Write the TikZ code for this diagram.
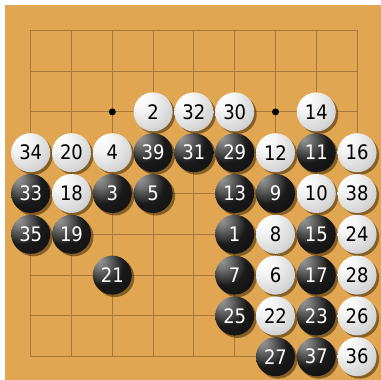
\documentclass[tikz,border=0pt]{standalone}
\usepackage{fontspec}
\newfontfamily\stonefont{DejaVu Sans Condensed}
\usetikzlibrary{shadows}
\definecolor{board}{HTML}{E1A651}
\definecolor{gridc}{HTML}{A8773C}
\definecolor{shadowc}{HTML}{4A300C}
\pgfdeclareradialshading{blackstone}{\pgfpoint{-18bp}{20bp}}{color(0bp)=(black!40); color(8bp)=(black!52); color(26bp)=(black!90); color(75bp)=(black)}
\pgfdeclareradialshading{whitestone}{\pgfpoint{-18bp}{20bp}}{color(0bp)=(white); color(14bp)=(white!96!black); color(34bp)=(white!84!black); color(55bp)=(white!64!black); color(75bp)=(white!45!black)}
\begin{document}
\begin{tikzpicture}[x=1pt,y=-1pt,
  stone/.style={circle, minimum size=39pt, inner sep=0pt,
    font=\stonefont\fontsize{20}{20}\selectfont,
    drop shadow={shadow xshift=2.5pt, shadow yshift=-2.5pt, fill=shadowc, opacity=0.6}},
  bstone/.style={stone, shading=blackstone, text=white},
  wstone/.style={stone, shading=whitestone, text=black},
  gridline/.style={draw=gridc, line width=0.9pt},
  starpt/.style={circle, fill=black, minimum size=7pt, inner sep=0pt}]
\useasboundingbox (0,0) rectangle (381,380);
\fill[board] (5,5) rectangle (381,380);
\foreach \i in {0,...,8}{
  \draw[gridline] ({30.7+40.8*\i},30.3) -- ({30.7+40.8*\i},356.7);
  \draw[gridline] (30.7,{30.3+40.8*\i}) -- (356.7,{30.3+40.8*\i});
}
\node[starpt] (star1) at ({30.7+40.8*2},{30.3+40.8*2}) {};
\node[starpt] (star2) at ({30.7+40.8*6},{30.3+40.8*2}) {};
% black stones
\foreach \c/\r/\n in {3/3/39,4/3/31,5/3/29,7/3/11,
  0/4/33,2/4/3,3/4/5,5/4/13,6/4/9,
  0/5/35,1/5/19,5/5/1,7/5/15,
  2/6/21,5/6/7,7/6/17,
  5/7/25,7/7/23,
  6/8/27,7/8/37}
  \node[bstone] (s\n) at ({30.7+40.8*\c},{30.3+40.8*\r}) {\n};
% white stones
\foreach \c/\r/\n in {3/2/2,4/2/32,5/2/30,7/2/14,
  0/3/34,1/3/20,2/3/4,6/3/12,8/3/16,
  1/4/18,7/4/10,8/4/38,
  6/5/8,8/5/24,
  6/6/6,8/6/28,
  6/7/22,8/7/26,
  8/8/36}
  \node[wstone] (s\n) at ({30.7+40.8*\c},{30.3+40.8*\r}) {\n};
\end{tikzpicture}
\end{document}
